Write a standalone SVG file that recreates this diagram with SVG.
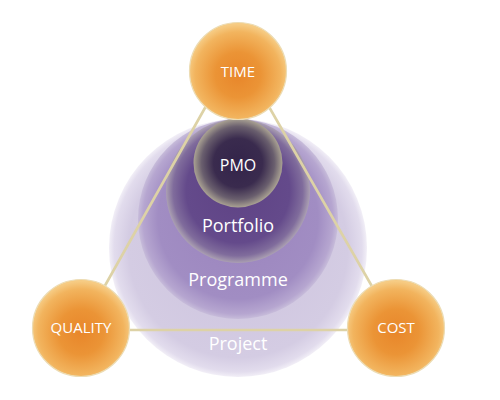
<svg xmlns="http://www.w3.org/2000/svg" width="500" height="400" viewBox="0 0 500 400">
  <defs>
    <radialGradient id="gOrange" cx="50%" cy="54%" r="52%">
      <stop offset="0" stop-color="#e8862a"/>
      <stop offset="0.45" stop-color="#eb9436"/>
      <stop offset="0.85" stop-color="#f2b45e"/>
      <stop offset="1" stop-color="#f6cb83"/>
    </radialGradient>
    <radialGradient id="gProject" cx="50%" cy="50%" r="50%">
      <stop offset="0" stop-color="#cdc3de"/>
      <stop offset="0.85" stop-color="#d4cce3"/>
      <stop offset="0.96" stop-color="#e2dced"/>
      <stop offset="1" stop-color="#f2eff7"/>
    </radialGradient>
    <radialGradient id="gProgramme" cx="50%" cy="50%" r="50%">
      <stop offset="0" stop-color="#9b84bd"/>
      <stop offset="0.8" stop-color="#a18dc3"/>
      <stop offset="0.95" stop-color="#b6a6d0"/>
      <stop offset="1" stop-color="#c7bcda"/>
    </radialGradient>
    <radialGradient id="gPortfolio" cx="50%" cy="50%" r="50%">
      <stop offset="0" stop-color="#5f4385"/>
      <stop offset="0.72" stop-color="#644a8b"/>
      <stop offset="0.9" stop-color="#806c9c"/>
      <stop offset="1" stop-color="#aba0b2"/>
    </radialGradient>
    <radialGradient id="gPMO" cx="50%" cy="50%" r="50%">
      <stop offset="0" stop-color="#33244a"/>
      <stop offset="0.55" stop-color="#3a2b4e"/>
      <stop offset="0.82" stop-color="#6a5f6e"/>
      <stop offset="1" stop-color="#aaa293"/>
    </radialGradient>
    <style>
      .lbl { font-family: "Open Sans", "Noto Sans", "Liberation Sans", sans-serif; fill: #ffffff; text-anchor: middle; }
      .big { font-size: 18px; }
      .small { font-size: 15px; }
      .orange { fill: url(#gOrange); stroke: #ecdcb4; stroke-width: 1.2; }
      .edge { stroke: #ddd2a6; stroke-width: 2.6; fill: none; stroke-linecap: round; }
    </style>
  </defs>

  <g id="project">
    <circle cx="238" cy="248" r="129" fill="url(#gProject)"/>
  </g>
  <g id="programme">
    <circle cx="238" cy="219" r="100" fill="url(#gProgramme)"/>
  </g>
  <g id="portfolio">
    <circle cx="238" cy="191" r="72" fill="url(#gPortfolio)"/>
  </g>
  <g id="pmo">
    <circle cx="238" cy="163" r="44.5" fill="url(#gPMO)"/>
  </g>

  <g id="connectors">
    <line class="edge" x1="237" y1="51" x2="80" y2="330"/>
    <line class="edge" x1="237" y1="51" x2="397" y2="330"/>
    <line class="edge" x1="80" y1="330" x2="397" y2="330"/>
  </g>

  <g id="labels-inner">
    <text class="lbl" x="238" y="170.5" font-size="16">PMO</text>
    <text class="lbl big" x="238" y="231.5">Portfolio</text>
    <text class="lbl big" x="238" y="286">Programme</text>
    <text class="lbl big" x="238" y="350">Project</text>
  </g>

  <g id="time">
    <circle class="orange" cx="238" cy="71" r="48.5"/>
    <text class="lbl small" x="238" y="76.5">TIME</text>
  </g>
  <g id="quality">
    <circle class="orange" cx="81" cy="328" r="48.5"/>
    <text class="lbl small" x="81" y="333.3">QUALITY</text>
  </g>
  <g id="cost">
    <circle class="orange" cx="396" cy="328" r="48.5"/>
    <text class="lbl small" x="396" y="333.3">COST</text>
  </g>
</svg>
